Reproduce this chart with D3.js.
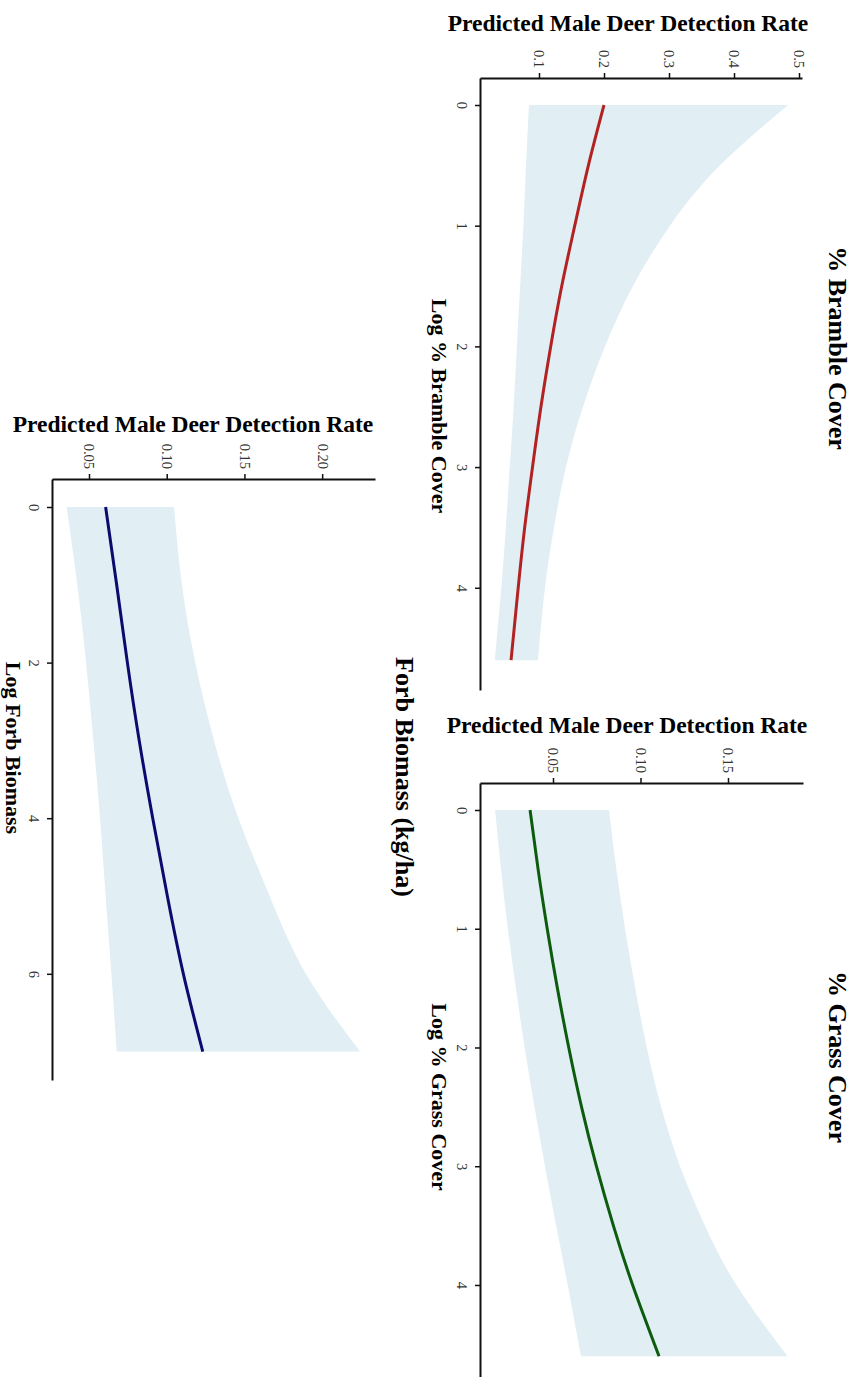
<!DOCTYPE html>
<html>
<head>
<meta charset="utf-8">
<script src="https://cdn.jsdelivr.net/npm/d3@7/dist/d3.min.js"></script>
<style>
  html, body { margin: 0; padding: 0; background: #fff; }
  svg { display: block; font-family: "Liberation Serif", "Times New Roman", serif; }
</style>
</head>
<body>
<svg id="chart" width="861" height="1377"></svg>
<script>
// ---------- DATA ----------
const rateTitle = "Predicted Male Deer Detection Rate";

// % Bramble Cover
const brambleX   = [0, 0.5, 1, 1.5, 2, 2.5, 3, 3.5, 4, 4.6];
const brambleFit = [0.200, 0.176, 0.155, 0.135, 0.118, 0.103, 0.090, 0.078, 0.068, 0.057];
const brambleLo  = [0.0846, 0.080, 0.076, 0.071, 0.066, 0.061, 0.055, 0.049, 0.042, 0.032];
const brambleHi  = [0.4836, 0.3785, 0.3015, 0.2446, 0.2015, 0.1677, 0.1415, 0.1231, 0.1092, 0.0985];
const brambleRateTicks  = [0.1, 0.2, 0.3, 0.4, 0.5];
const brambleCoverTicks = [0, 1, 2, 3, 4];

// % Grass Cover
const grassX   = [0, 0.5, 1, 1.5, 2, 2.5, 3, 3.5, 4, 4.6];
const grassFit = [0.0369, 0.0415, 0.0467, 0.0525, 0.0590, 0.0663, 0.0748, 0.0845, 0.0955, 0.1106];
const grassLo  = [0.0169, 0.0203, 0.0242, 0.0288, 0.0338, 0.0394, 0.0454, 0.0518, 0.0584, 0.066];
const grassHi  = [0.082, 0.0862, 0.0912, 0.0970, 0.1036, 0.1118, 0.1226, 0.1368, 0.1548, 0.184];
const grassRateTicks  = [0.05, 0.10, 0.15];
const grassCoverTicks = [0, 1, 2, 3, 4];

// Forb Biomass (kg/ha)
const forbX   = [0, 1, 2, 3, 4, 5, 6, 7];
const forbFit = [0.0607, 0.0678, 0.0747, 0.0823, 0.091, 0.1004, 0.1107, 0.1232];
const forbLo  = [0.0356, 0.0425, 0.0481, 0.0528, 0.0571, 0.0607, 0.0644, 0.0678];
const forbHi  = [0.1047, 0.1098, 0.1184, 0.1304, 0.1461, 0.1662, 0.1895, 0.2244];
const forbRateTicks  = [0.05, 0.10, 0.15, 0.20];
const forbCoverTicks = [0, 2, 4, 6];

// ---------- LAYOUT ----------
const panels = [
  { title: "% Bramble Cover", xlab: "Log % Bramble Cover", color: "#b22222",
    x: brambleX, fit: brambleFit, lo: brambleLo, hi: brambleHi,
    rateTicks: brambleRateTicks, coverTicks: brambleCoverTicks, fmt: d3.format(".1f"),
    rateLim: [0.00923, 0.5046], coverLim: [-0.2237, 4.847],
    box: { left: 480, right: 802, top: 78, bottom: 690 },
    titlePos: [838, 348], xlabPos: [440, 406], ylabPos: [628, 31] },
  { title: "% Grass Cover", xlab: "Log % Grass Cover", color: "#0d5c0d",
    x: grassX, fit: grassFit, lo: grassLo, hi: grassHi,
    rateTicks: grassRateTicks, coverTicks: grassCoverTicks, fmt: d3.format(".2f"),
    rateLim: [0.00829, 0.19286], coverLim: [-0.2274, 4.775],
    box: { left: 480, right: 803, top: 783, bottom: 1377 },
    titlePos: [838, 1057], xlabPos: [440, 1097], ylabPos: [627, 733] },
  { title: "Forb Biomass (kg/ha)", xlab: "Log Forb Biomass", color: "#0b0b6e",
    x: forbX, fit: forbFit, lo: forbLo, hi: forbHi,
    rateTicks: forbRateTicks, coverTicks: forbCoverTicks, fmt: d3.format(".2f"),
    rateLim: [0.0262, 0.2340], coverLim: [-0.36, 7.365],
    box: { left: 52, right: 375, top: 479, bottom: 1080 },
    titlePos: [405, 777], xlabPos: [14, 748], ylabPos: [193, 432] }
];

const svg = d3.select("#chart");

panels.forEach(p => {
  const g = svg.append("g");
  const rate = d3.scaleLinear().domain(p.rateLim).range([p.box.left, p.box.right]);
  const cover = d3.scaleLinear().domain(p.coverLim).range([p.box.top, p.box.bottom]);
  const rows = p.x.map((v, i) => ({ x: v, fit: p.fit[i], lo: p.lo[i], hi: p.hi[i] }));

  // confidence band
  g.append("path")
    .datum(rows)
    .attr("fill", "#e1eff5")
    .attr("d", d3.area()
      .y(d => cover(d.x))
      .x0(d => rate(d.lo))
      .x1(d => rate(d.hi))
      .curve(d3.curveNatural));

  // fitted line
  g.append("path")
    .datum(rows)
    .attr("fill", "none")
    .attr("stroke", p.color)
    .attr("stroke-width", 3)
    .attr("d", d3.line()
      .y(d => cover(d.x))
      .x(d => rate(d.fit))
      .curve(d3.curveNatural));

  // rate axis (top)
  const ax1 = g.append("g")
    .attr("transform", `translate(0,${p.box.top})`)
    .call(d3.axisTop(rate).tickValues(p.rateTicks).tickFormat(p.fmt).tickSizeInner(5).tickSizeOuter(0));
  // cover axis (left)
  const ax2 = g.append("g")
    .attr("transform", `translate(${p.box.left},0)`)
    .call(d3.axisLeft(cover).tickValues(p.coverTicks).tickFormat(d3.format("d")).tickSizeInner(5).tickSizeOuter(0));

  [ax1, ax2].forEach(ax => {
    ax.select(".domain").attr("stroke", "#111").attr("stroke-width", 2);
    ax.selectAll(".tick line").attr("stroke", "#111").attr("stroke-width", 1.5);
    ax.selectAll(".tick text")
      .attr("fill", "#333")
      .style("font-family", "'Liberation Serif', serif")
      .style("font-size", "14.5px");
  });
  ax1.selectAll(".tick text")
    .attr("transform", "rotate(90)")
    .attr("x", -10).attr("y", 0).attr("dy", "0.35em")
    .attr("text-anchor", "end");
  ax2.selectAll(".tick text")
    .attr("transform", "rotate(90)")
    .attr("x", 0).attr("y", 18).attr("dy", "0.35em")
    .attr("text-anchor", "middle");

  // titles
  g.append("text")
    .attr("transform", `translate(${p.titlePos[0]},${p.titlePos[1]}) rotate(90)`)
    .attr("text-anchor", "middle").attr("dy", "0.35em")
    .style("font-weight", "bold").style("font-size", "26px")
    .text(p.title);
  g.append("text")
    .attr("transform", `translate(${p.xlabPos[0]},${p.xlabPos[1]}) rotate(90)`)
    .attr("text-anchor", "middle").attr("dy", "0.35em")
    .style("font-weight", "bold").style("font-size", "22px")
    .text(p.xlab);
  g.append("text")
    .attr("x", p.ylabPos[0]).attr("y", p.ylabPos[1])
    .attr("text-anchor", "middle")
    .style("font-weight", "bold").style("font-size", "23.5px")
    .text(rateTitle);
});
</script>
</body>
</html>
